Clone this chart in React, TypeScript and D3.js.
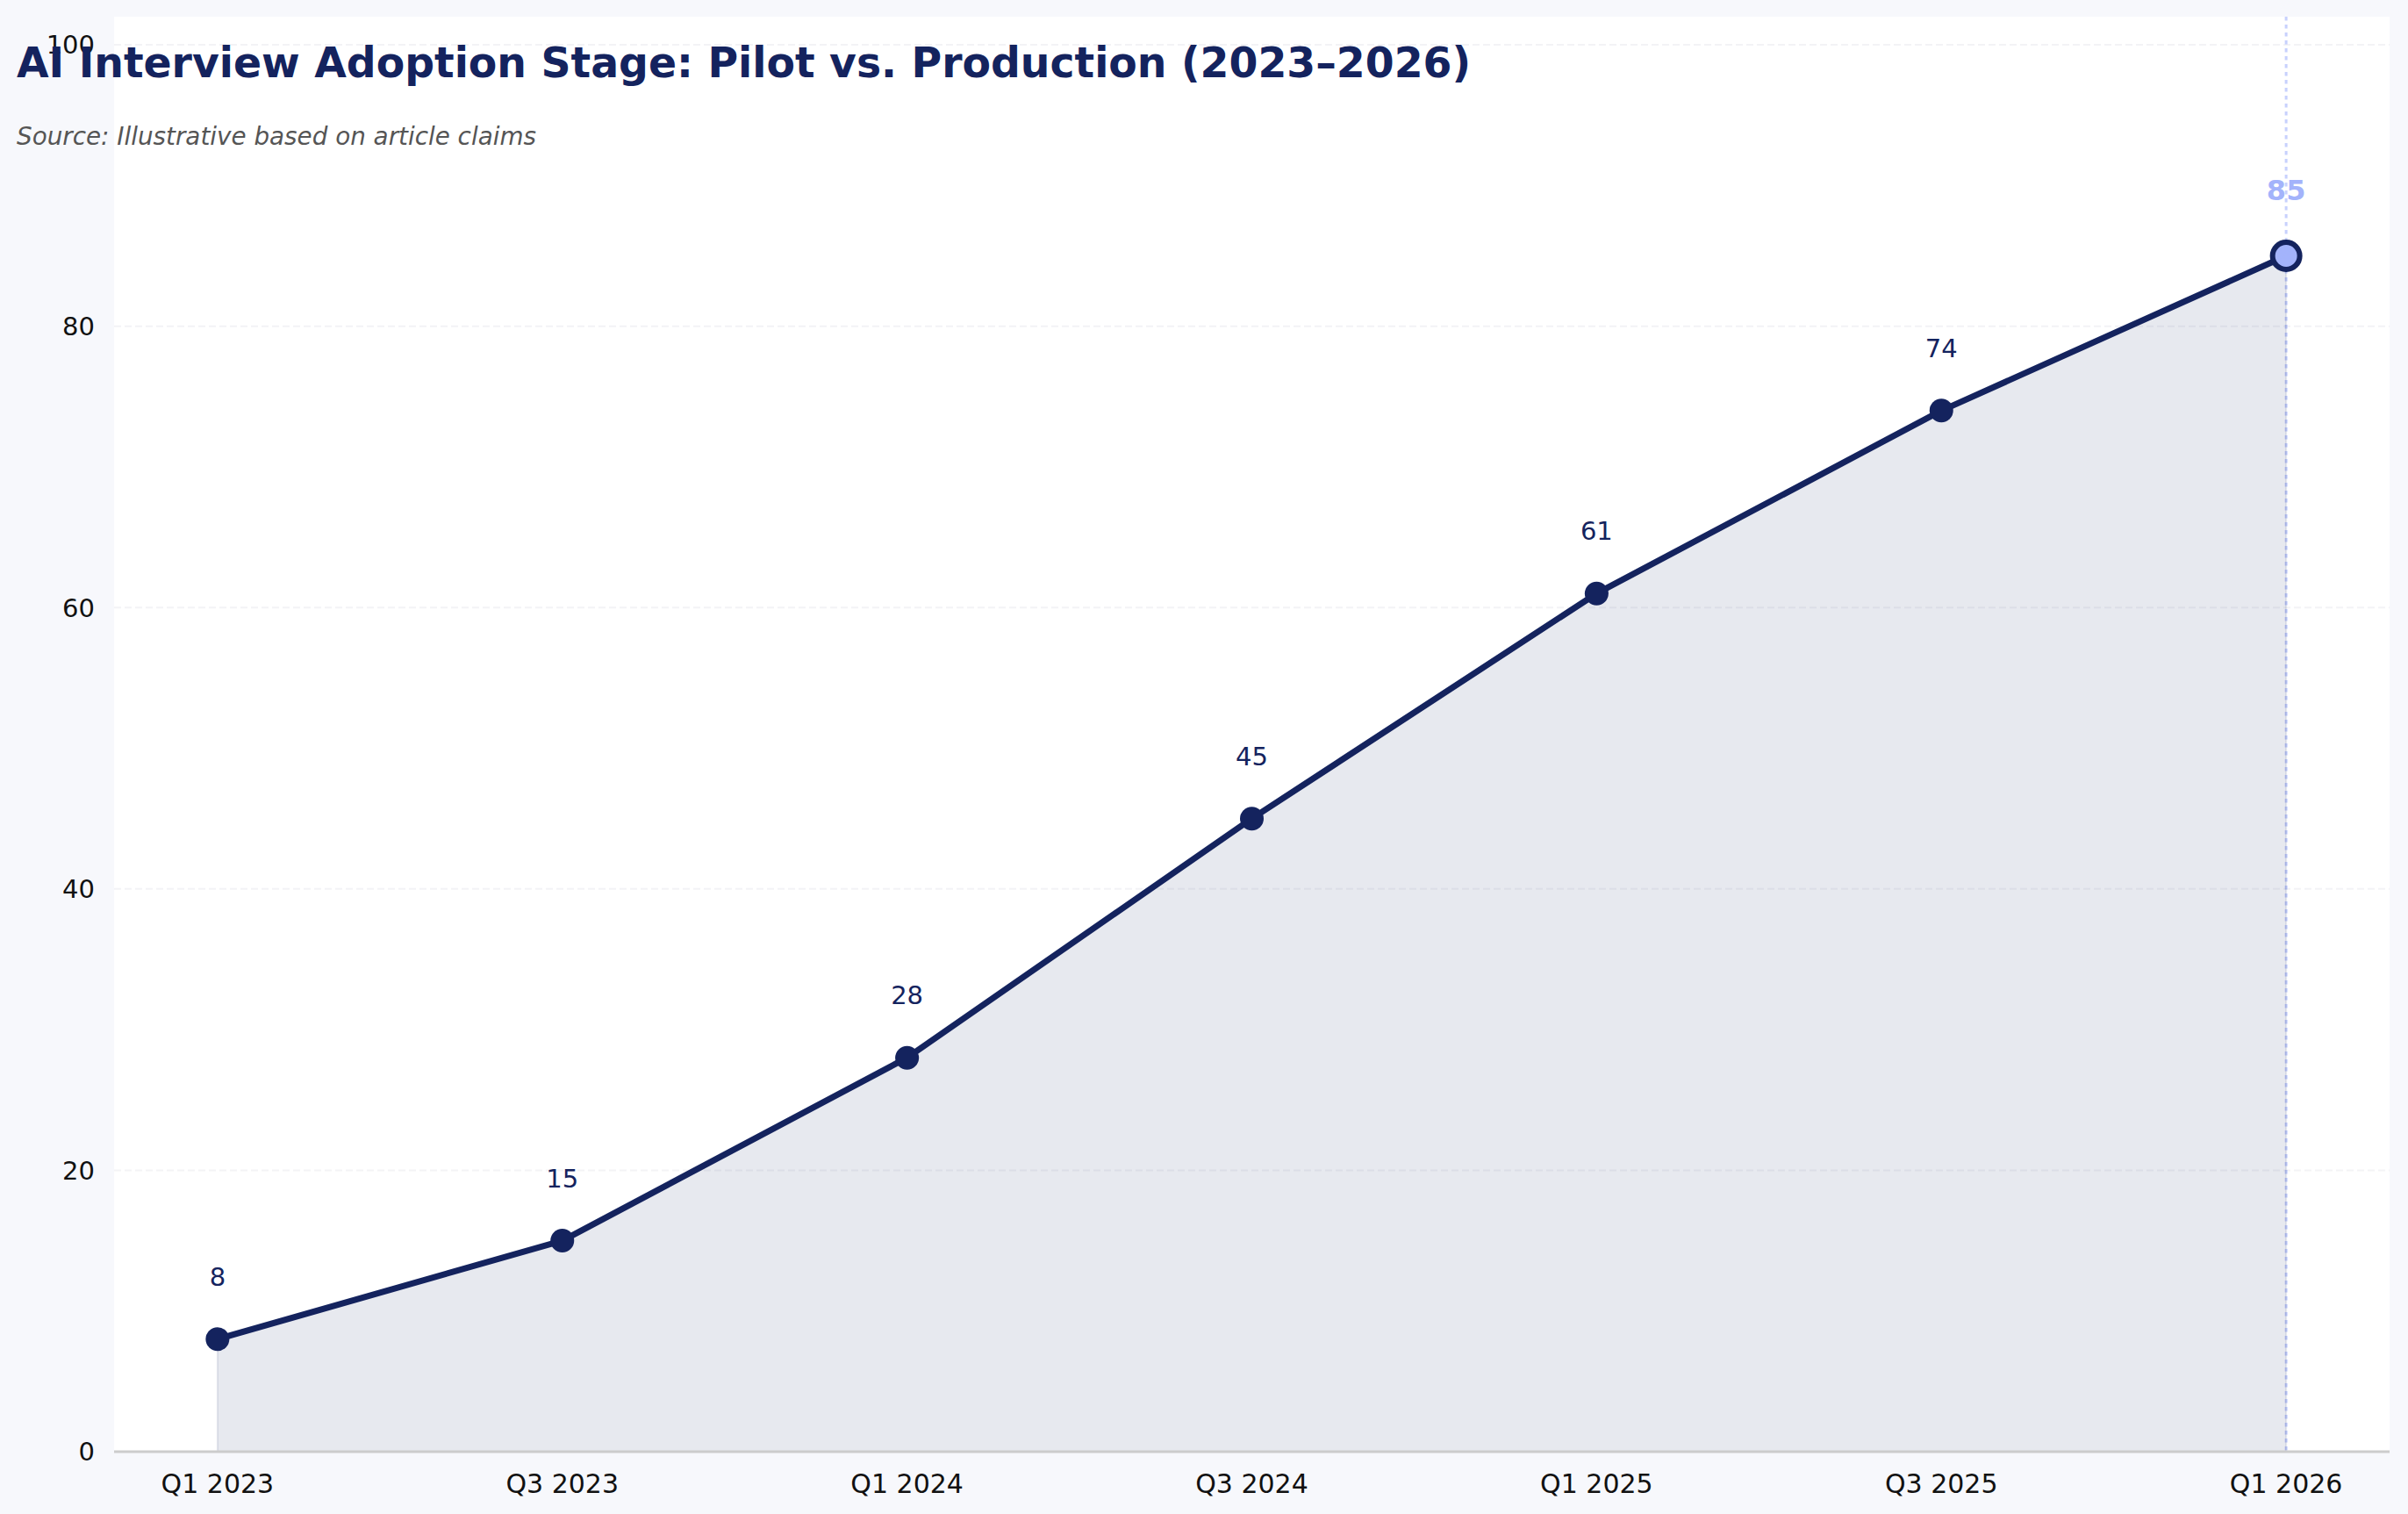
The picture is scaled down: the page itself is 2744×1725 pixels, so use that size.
import React from "react";
import * as d3 from "d3";

const categories = ["Q1 2023", "Q3 2023", "Q1 2024", "Q3 2024", "Q1 2025", "Q3 2025", "Q1 2026"];
const values = [8, 15, 28, 45, 61, 74, 85];
const yTicks = [0, 20, 40, 60, 80, 100];
const title = "AI Interview Adoption Stage: Pilot vs. Production (2023–2026)";
const subtitle = "Source: Illustrative based on article claims";

const W = 2744;
const H = 1725;
const NAVY = "#14235e";
const LIGHT = "#a3b3fb";
const FONT = "'DejaVu Sans', sans-serif";

export default function App() {
  const left = 130, right = 2723, top = 19, bottom = 1654;
  const x = d3.scaleLinear().domain([-0.3, categories.length - 1 + 0.3]).range([left, right]);
  const y = d3.scaleLinear().domain([0, 102]).range([bottom, top]);
  const pts = values.map((v, i) => [x(i), y(v)] as [number, number]);
  const line = d3.line<[number, number]>()(pts) || "";
  const area = d3
    .area<[number, number]>()
    .x((d) => d[0])
    .y0(y(0))
    .y1((d) => d[1])(pts) || "";
  const last = values.length - 1;

  return (
    <div style={{ position: "fixed", left: 0, top: 0 }}>
      <svg width={W} height={H} style={{ display: "block" }}>
        <rect x={0} y={0} width={W} height={H} fill="#f7f8fc" />
        <rect x={left} y={top} width={right - left} height={bottom - top} fill="#ffffff" />
        {yTicks.filter((t) => t > 0).map((t) => (
          <line key={t} x1={left} x2={right} y1={y(t)} y2={y(t)} stroke="#f3f3f6" strokeWidth={2} strokeDasharray="8,4" />
        ))}
        <line x1={x(last)} x2={x(last)} y1={top} y2={bottom} stroke={LIGHT} strokeOpacity={0.6} strokeWidth={3} strokeDasharray="4.5,4.5" />
        <path d={area} fill={NAVY} fillOpacity={0.1} stroke={NAVY} strokeOpacity={0.1} strokeWidth={2} />
        <line x1={left} x2={right} y1={bottom} y2={bottom} stroke="#cccccc" strokeWidth={3} />
        <path d={line} fill="none" stroke={NAVY} strokeWidth={7} strokeLinejoin="round" strokeLinecap="round" />
        {pts.map((p, i) =>
          i === last ? (
            <circle key={i} cx={p[0]} cy={p[1]} r={15.5} fill={LIGHT} stroke={NAVY} strokeWidth={6} />
          ) : (
            <circle key={i} cx={p[0]} cy={p[1]} r={13.5} fill={NAVY} />
          )
        )}
        {values.map((v, i) =>
          i === last ? (
            <text key={i} x={x(i)} y={y(v) - 64} textAnchor="middle" fontFamily={FONT} fontWeight="bold" fontSize={32} fill={LIGHT}>
              {v}
            </text>
          ) : (
            <text key={i} x={x(i)} y={y(v) - 61} textAnchor="middle" fontFamily={FONT} fontSize={29} fill={NAVY}>
              {v}
            </text>
          )
        )}
        {yTicks.map((t) => (
          <text key={t} x={108} y={y(t)} dy="0.36em" textAnchor="end" fontFamily={FONT} fontSize={29} fill="#111">
            {t}
          </text>
        ))}
        {categories.map((c, i) => (
          <text key={c} x={x(i)} y={1701} textAnchor="middle" fontFamily={FONT} fontSize={30} fill="#111">
            {c}
          </text>
        ))}
        <text x={19} y={88} fontFamily={FONT} fontWeight="bold" fontSize={47.3} fill={NAVY}>
          {title}
        </text>
        <text x={19} y={165} fontFamily={FONT} fontStyle="italic" fontSize={27.8} fill="#555555">
          {subtitle}
        </text>
      </svg>
    </div>
  );
}
